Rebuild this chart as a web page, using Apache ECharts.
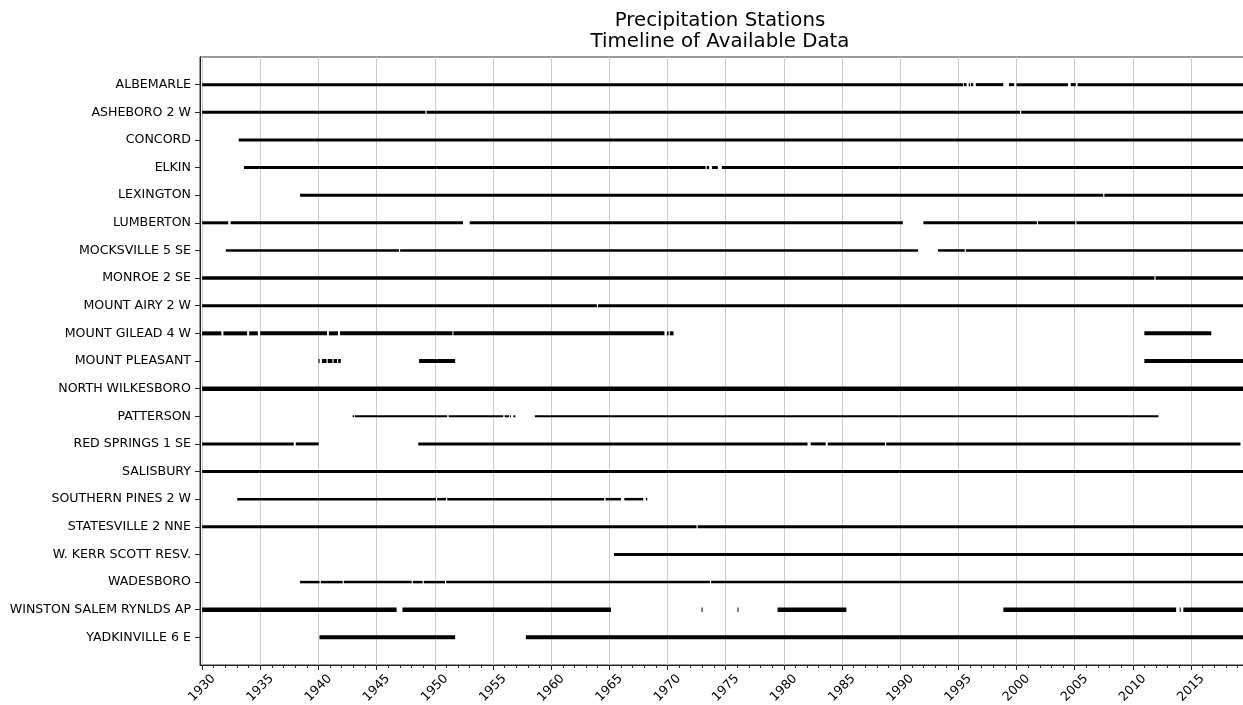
<!DOCTYPE html>
<html>
<head>
<meta charset="utf-8">
<title>Precipitation Stations – Timeline of Available Data</title>
<script src="https://cdn.jsdelivr.net/npm/echarts@6/dist/echarts.min.js"></script>
<style>
  html, body { margin: 0; padding: 0; background: #fff; }
  #chart { width: 1243px; height: 705px; }
</style>
</head>
<body>
<div id="chart"></div>
<script>
// Station names, top to bottom
const stationNames = [
  'ALBEMARLE', 'ASHEBORO 2 W', 'CONCORD', 'ELKIN', 'LEXINGTON', 'LUMBERTON',
  'MOCKSVILLE 5 SE', 'MONROE 2 SE', 'MOUNT AIRY 2 W', 'MOUNT GILEAD 4 W',
  'MOUNT PLEASANT', 'NORTH WILKESBORO', 'PATTERSON', 'RED SPRINGS 1 SE',
  'SALISBURY', 'SOUTHERN PINES 2 W', 'STATESVILLE 2 NNE', 'W. KERR SCOTT RESV.',
  'WADESBORO', 'WINSTON SALEM RYNLDS AP', 'YADKINVILLE 6 E'
];

// Last date of the record (decimal year)
const END = 2019.6;

// Periods with data for each station: [start, end] in decimal years
const albemarle = [[1930.0, 1995.42], [1995.48, 1995.71], [1995.89, 1996.0], [1996.08, 1996.28],
  [1996.5, 1998.86], [1999.35, 1999.8], [2000.0, 2004.43], [2004.66, 2005.1], [2005.25, END]];
const asheboro = [[1930.0, 1949.2], [1949.3, 2000.3], [2000.4, END]];
const concord = [[1933.15, END]];
const elkin = [[1933.6, 1973.28], [1973.38, 1973.58], [1973.82, 1974.33], [1974.68, END]];
const lexington = [[1938.42, 2007.45], [2007.55, END]];
const lumberton = [[1930.0, 1932.25], [1932.45, 1952.43], [1953.0, 1990.23], [1992.0, 2001.75],
  [2001.85, 2005.05], [2005.15, END]];
const mocksville = [[1932.04, 1946.92], [1947.02, 1991.54], [1993.25, 1995.55], [1995.65, END]];
const monroe = [[1930.0, 2011.85], [2011.95, END]];
const mountAiry = [[1930.0, 1963.93], [1964.03, END]];
const mountGilead = [[1930.0, 1931.66], [1931.83, 1933.87], [1934.04, 1934.79], [1935.0, 1940.74],
  [1940.9, 1941.68], [1941.85, 1951.52], [1951.6, 1969.74], [1969.95, 1970.1], [1970.2, 1970.52],
  [2010.99, 2016.74]];
const mountPleasant = [[1940.0, 1940.1], [1940.3, 1940.7], [1940.8, 1941.2], [1941.3, 1941.6],
  [1941.7, 1941.92], [1948.65, 1951.75], [2010.99, END]];
const northWilkesboro = [[1930.0, END]];
const patterson = [[1942.94, 1943.06], [1943.13, 1951.07], [1951.19, 1955.89], [1956.0, 1956.38],
  [1956.46, 1956.55], [1956.75, 1956.92], [1958.6, 2012.2]];
const redSprings = [[1930.0, 1937.88], [1938.05, 1940.02], [1948.58, 1982.04], [1982.31, 1983.6],
  [1983.78, 1988.7], [1988.8, 2019.25]];
const salisbury = [[1930.0, END]];
const southernPines = [[1933.02, 1950.1], [1950.2, 1950.97], [1951.07, 1964.56], [1964.68, 1966.0],
  [1966.29, 1967.92], [1968.15, 1968.26]];
const statesville = [[1930.0, 1972.5], [1972.6, END]];
const kerrScott = [[1965.4, END]];
const wadesboro = [[1938.42, 1940.1], [1940.2, 1942.08], [1942.18, 1948.02], [1948.12, 1948.95],
  [1949.05, 1950.88], [1950.98, 1973.65], [1973.75, END]];
const winstonSalem = [[1930.0, 1946.72], [1947.22, 1965.14], [1972.93, 1973.0], [1976.02, 1976.09],
  [1979.46, 1985.38], [1998.87, 2013.72], [2014.03, 2014.1], [2014.34, END]];
const yadkinville = [[1940.09, 1951.75], [1957.83, END]];

const stationPeriods = [
  albemarle, asheboro, concord, elkin, lexington, lumberton, mocksville, monroe, mountAiry,
  mountGilead, mountPleasant, northWilkesboro, patterson, redSprings, salisbury, southernPines,
  statesville, kerrScott, wadesboro, winstonSalem, yadkinville
];

// Tick labels on the time axis and yearly minor ticks
const majorYears = [1930, 1935, 1940, 1945, 1950, 1955, 1960, 1965, 1970, 1975,
  1980, 1985, 1990, 1995, 2000, 2005, 2010, 2015];
const minorYears = [];
for (let y = 1930; y <= 2019; y++) minorYears.push(y);

// Stroke thickness per station row (denser records draw heavier)
const rowWidths = [3, 3, 3, 3, 3, 3, 2.5, 3.5, 3, 4, 4, 4.5, 2, 3, 3, 2.5, 3, 3, 2.5, 4.5, 4];

const X_MIN = 1929.82;
const X_MAX = 2019.64;

const data = [];
stationPeriods.forEach((periods, row) => {
  periods.forEach(p => data.push([p[0], p[1], row]));
});

const rowIndex = stationNames.map((_, i) => i);
const FONT = 'DejaVu Sans';

const chart = echarts.init(document.getElementById('chart'), null, { renderer: 'canvas' });
chart.setOption({
  animation: false,
  backgroundColor: '#ffffff',
  title: {
    text: 'Precipitation Stations\nTimeline of Available Data',
    left: 715,
    top: 5,
    textAlign: 'center',
    textStyle: { fontFamily: FONT, fontSize: 19.8, fontWeight: 'normal', color: '#000', lineHeight: 21 }
  },
  grid: {
    left: 200, top: 57, width: 1045, height: 608,
    outerBoundsMode: 'none', containLabel: false,
    show: true, borderColor: '#333', borderWidth: 1, backgroundColor: 'transparent'
  },
  xAxis: [{
    type: 'value', min: X_MIN, max: X_MAX, position: 'bottom',
    axisLine: { show: true, onZero: false, lineStyle: { color: '#222', width: 1 } },
    axisTick: { show: true, length: 5, customValues: majorYears, lineStyle: { color: '#222' } },
    axisLabel: {
      customValues: majorYears, rotate: 45, align: 'center', verticalAlign: 'middle', margin: 23,
      fontFamily: FONT, fontSize: 12.6, color: '#000', formatter: v => String(Math.round(v))
    },
    splitLine: { show: true, lineStyle: { color: '#cccccc', width: 1 } }
  }, {
    type: 'value', min: X_MIN, max: X_MAX, position: 'bottom',
    axisLine: { show: false, onZero: false },
    axisTick: { show: true, length: 3, customValues: minorYears, lineStyle: { color: '#222' } },
    axisLabel: { show: false },
    splitLine: { show: false }
  }],
  yAxis: {
    type: 'value', min: -1, max: 21, inverse: true,
    axisLine: { show: true, onZero: false, lineStyle: { color: '#222', width: 1 } },
    axisTick: { show: true, length: 5, customValues: rowIndex, lineStyle: { color: '#222' } },
    axisLabel: {
      customValues: rowIndex, margin: 9, fontFamily: FONT, fontSize: 12.6, color: '#000',
      formatter: v => stationNames[Math.round(v)] || ''
    },
    splitLine: { show: false }
  },
  series: [{
    type: 'custom',
    xAxisIndex: 0,
    clip: true,
    encode: { x: [0, 1], y: 2 },
    data: data,
    renderItem: (params, api) => {
      const row = api.value(2);
      const a = api.coord([api.value(0), row]);
      const b = api.coord([api.value(1), row]);
      const w = rowWidths[row];
      return {
        type: 'rect',
        shape: { x: a[0], y: a[1] - w / 2, width: Math.max(b[0] - a[0], 1), height: w },
        style: { fill: '#000' }
      };
    }
  }]
});
</script>
</body>
</html>
